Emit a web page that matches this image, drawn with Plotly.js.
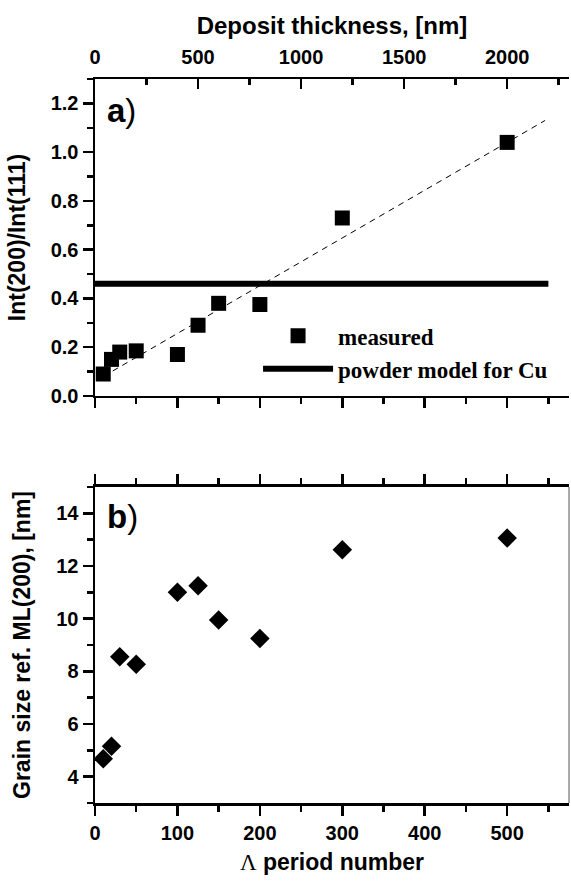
<!DOCTYPE html>
<html>
<head>
<meta charset="utf-8">
<script src="https://cdn.plot.ly/plotly-3.0.1.min.js"></script>
<style>html,body{margin:0;padding:0;background:#fff;}#chart{width:571px;height:883px;}</style>
</head>
<body>
<div id="chart"></div>
<script>
// Λ period numbers of the samples (shared by both panels)
const periods = [10, 20, 30, 50, 100, 125, 150, 200, 300, 500];
// panel a: Int(200)/Int(111)
const intRatio = [0.09, 0.15, 0.18, 0.185, 0.17, 0.29, 0.38, 0.375, 0.73, 1.04];
// panel a: dashed guide line (deposit thickness nm, ratio)
const fitThickness = [40, 2184];
const fitRatio = [0.08, 1.13];
// panel a: powder model for Cu (horizontal line, thickness nm)
const powderThickness = [0, 2200];
const powderRatio = [0.46, 0.46];
// panel b: grain size ref. ML(200), nm
const grainSize = [4.68, 5.15, 8.55, 8.27, 11.0, 11.25, 9.95, 9.25, 12.62, 13.06];
// tick values
const thickTicks = [0, 500, 1000, 1500, 2000];
const periodTicks = [0, 100, 200, 300, 400, 500];

const SANS = 'Liberation Sans, Arial, sans-serif';
const SERIF = 'Liberation Serif, Times New Roman, serif';
const tickFont = {family: SANS, size: 20, color: '#000', weight: 'bold'};
const titleFont = {family: SANS, size: 23, color: '#000', weight: 'bold'};
const LW = 2.5;

const traces = [
  {x: fitThickness, y: fitRatio, xaxis: 'x3', yaxis: 'y2', mode: 'lines',
   line: {color: '#000', width: 1, dash: '6px,5px'}, showlegend: false, hoverinfo: 'skip'},
  {x: periods, y: intRatio, xaxis: 'x2', yaxis: 'y2', mode: 'markers', name: 'measured',
   marker: {symbol: 'square', size: 15, color: '#000'}},
  {x: powderThickness, y: powderRatio, xaxis: 'x3', yaxis: 'y2', mode: 'lines', name: 'powder model for Cu',
   line: {color: '#000', width: 6}},
  {x: periods, y: grainSize, xaxis: 'x', yaxis: 'y', mode: 'markers', showlegend: false,
   marker: {symbol: 'diamond', size: 15, color: '#000'}}
];

const layout = {
  width: 571, height: 883,
  margin: {l: 95, r: 2, t: 79, b: 80},
  paper_bgcolor: '#fff', plot_bgcolor: '#fff',
  font: {family: SANS, color: '#000'},
  showlegend: true,
  legend: {x: 0.344, y: 0.675, xanchor: 'left', yanchor: 'top', bgcolor: 'rgba(0,0,0,0)',
           font: {family: SERIF, size: 23, color: '#000', weight: 'bold'},
           itemwidth: 70, traceorder: 'normal'},
  // panel b bottom axis: period number
  xaxis: {domain: [0, 1], anchor: 'y', range: [0, 575], tickvals: periodTicks,
          ticks: 'outside', ticklen: 10, tickwidth: LW, tickcolor: '#000',
          minor: {dtick: 50, ticks: 'outside', ticklen: 6, tickwidth: LW, tickcolor: '#000'},
          showline: true, linewidth: LW, linecolor: '#000', mirror: 'ticks',
          showgrid: false, zeroline: false, tickfont: tickFont, ticklabelstandoff: 0,
          title: {text: '<span style="font-family:Liberation Serif;font-weight:normal">Λ</span> period number', font: {family: SANS, size: 23, weight: 'bold', color: '#000'}, standoff: 12}},
  yaxis: {domain: [0, 0.4365], anchor: 'x', range: [3, 15], dtick: 2, tick0: 0,
          ticks: 'outside', ticklen: 10, tickwidth: LW, tickcolor: '#000',
          minor: {dtick: 1, ticks: 'outside', ticklen: 6, tickwidth: LW, tickcolor: '#000'},
          showline: true, linewidth: LW, linecolor: '#000', mirror: false,
          showgrid: false, zeroline: false, tickfont: tickFont,
          title: {text: 'Grain size ref. ML(200), [nm]', font: titleFont, standoff: 19}},
  // panel a bottom axis (period scale, no labels)
  xaxis2: {domain: [0, 1], anchor: 'y2', range: [0, 575], tickvals: periodTicks, showticklabels: false,
           ticks: 'outside', ticklen: 10, tickwidth: LW, tickcolor: '#000',
           minor: {dtick: 50, ticks: 'outside', ticklen: 6, tickwidth: LW, tickcolor: '#000'},
           showline: true, linewidth: LW, linecolor: '#000', showgrid: false, zeroline: false},
  // panel a top axis: deposit thickness
  xaxis3: {overlaying: 'x2', anchor: 'y2', side: 'top', range: [0, 2300], tickvals: thickTicks,
           ticks: 'inside', ticklen: 10, tickwidth: LW, tickcolor: '#000',
           minor: {dtick: 250, ticks: 'inside', ticklen: 6, tickwidth: LW, tickcolor: '#000'},
           showline: true, linewidth: LW, linecolor: '#000', showgrid: false, zeroline: false,
           tickfont: tickFont, ticklabelstandoff: 5,
           title: {text: 'Deposit thickness, [nm]', font: {family: SANS, size: 24, color: '#000', weight: 'bold'}, standoff: 4}},
  yaxis2: {domain: [0.5622, 1], anchor: 'x2', range: [0, 1.3], dtick: 0.2, tick0: 0, tickformat: '.1f',
           ticks: 'outside', ticklen: 10, tickwidth: LW, tickcolor: '#000',
           minor: {dtick: 0.1, ticks: 'outside', ticklen: 6, tickwidth: LW, tickcolor: '#000'},
           showline: true, linewidth: LW, linecolor: '#000', showgrid: false, zeroline: false,
           tickfont: tickFont,
           title: {text: 'Int(200)/Int(111)', font: titleFont, standoff: 19}},
  yaxis4: {overlaying: 'y2', anchor: 'x2', side: 'right', range: [0, 1.3], dtick: 0.2, tick0: 0,
           showticklabels: false, ticks: 'inside', ticklen: 10, tickwidth: LW, tickcolor: '#000',
           minor: {dtick: 0.1, ticks: 'inside', ticklen: 6, tickwidth: LW, tickcolor: '#000'},
           showline: true, linewidth: LW, linecolor: '#000', showgrid: false, zeroline: false},
  shapes: [
    {type: 'line', xref: 'x domain', yref: 'y domain', x0: 1, x1: 1, y0: 0, y1: 1,
     line: {color: '#555', width: 1}}
  ],
  annotations: [
    {xref: 'x2 domain', yref: 'y2 domain', x: 0.022, y: 0.9, xanchor: 'left', yanchor: 'middle',
     showarrow: false, text: '<b>a</b>)', font: {family: SANS, size: 33, color: '#000'}},
    {xref: 'x domain', yref: 'y domain', x: 0.022, y: 0.905, xanchor: 'left', yanchor: 'middle',
     showarrow: false, text: '<b>b</b>)', font: {family: SANS, size: 33, color: '#000'}}
  ]
};

Plotly.newPlot('chart', traces, layout, {staticPlot: true, displayModeBar: false});
</script>
</body>
</html>
